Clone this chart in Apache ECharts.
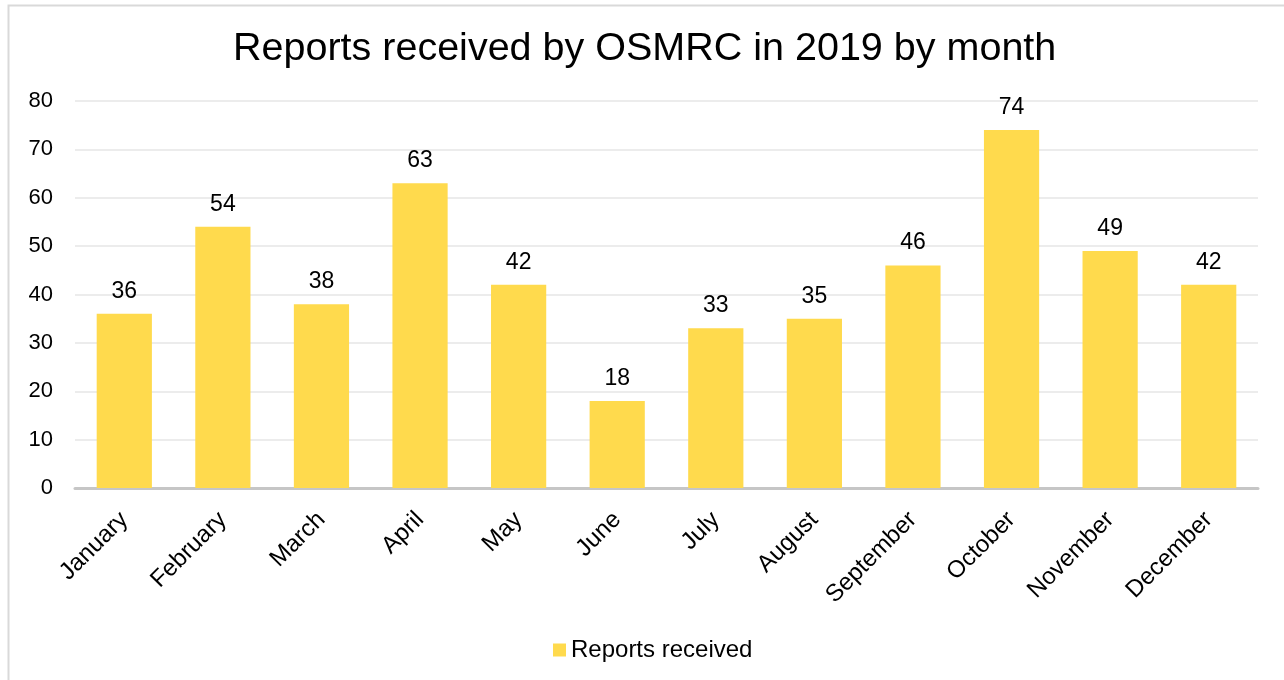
<!DOCTYPE html>
<html><head><meta charset="utf-8">
<script src="https://cdn.jsdelivr.net/npm/echarts@6/dist/echarts.min.js"></script>
<style>html,body{margin:0;padding:0;background:#fff}#c{width:1284px;height:680px}</style>
</head><body><div id="c"></div>
<script>
const categories = ["January","February","March","April","May","June","July","August","September","October","November","December"];
const reports = [36,54,38,63,42,18,33,35,46,74,49,42];
const yTicks = {min:0, max:80, interval:10};
const seriesName = "Reports received";
const titleText = "Reports received by OSMRC in 2019 by month";

const chart = echarts.init(document.getElementById('c'), null, {renderer:'canvas'});
const font = "'Liberation Sans', Arial, sans-serif";
chart.setOption({
  backgroundColor:'#fff',
  animation:false,
  graphic:[{type:'rect', shape:{x:8.5,y:5.5,width:1300,height:700}, style:{fill:'none', stroke:'#d9d9d9', lineWidth:2}, silent:true}],
  title:{text:titleText, left:228, top:24, textStyle:{fontFamily:font, fontSize:39.5, fontWeight:'normal', color:'#000'}},
  legend:{bottom:13, left:548, itemWidth:13, itemHeight:13, itemGap:5, icon:'rect',
    textStyle:{fontFamily:font, fontSize:24, color:'#000'}},
  grid:{left:75, right:26, top:101, bottom:192, containLabel:false},
  xAxis:{type:'category', data:categories,
    axisLine:{lineStyle:{color:'#c6c6c6', width:3}}, axisTick:{show:false},
    axisLabel:{rotate:45, fontFamily:font, fontSize:24, color:'#000', margin:28, interval:0}},
  yAxis:{type:'value', min:yTicks.min, max:yTicks.max, interval:yTicks.interval,
    axisLine:{show:false}, axisTick:{show:false},
    splitLine:{lineStyle:{color:'#ececec', width:2}},
    axisLabel:{fontFamily:font, fontSize:22, color:'#000', margin:22}},
  series:[{name:seriesName, type:'bar', data:reports, barWidth:'56%',
    itemStyle:{color:'#FFDA4D'},
    label:{show:true, position:'top', distance:11, fontFamily:font, fontSize:23, color:'#000'}}]
});
</script></body></html>
